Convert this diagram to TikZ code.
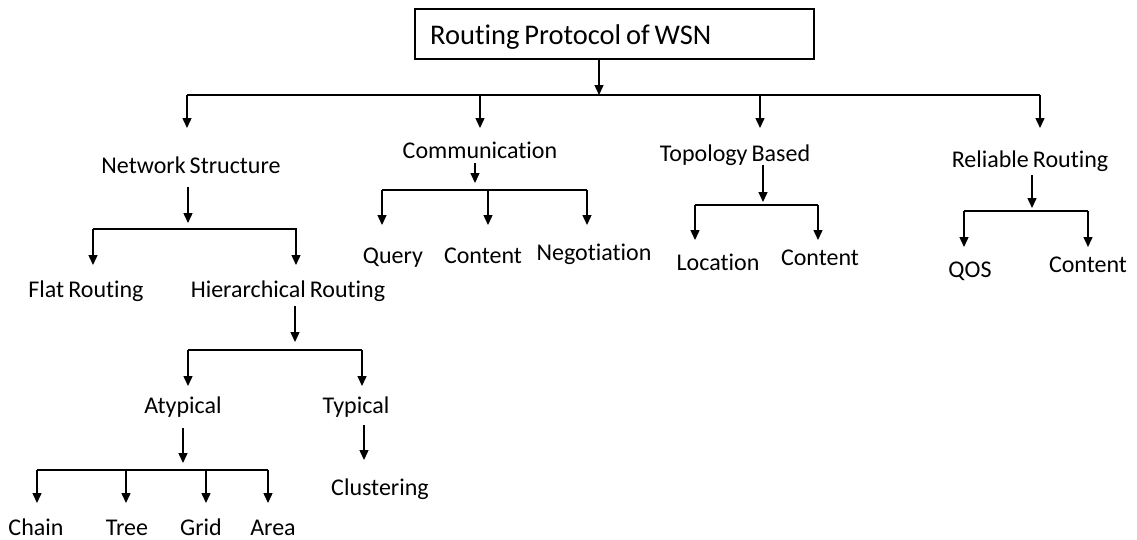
\documentclass[tikz,border=0pt]{standalone}
\usepackage{fontspec}
\setmainfont{Carlito}[WordSpace=0.75,Ligatures=NoCommon]
\usetikzlibrary{arrows.meta}
\begin{document}
\begin{tikzpicture}[x=1pt,y=-1pt,
  lbl/.style={font=\fontsize{24}{28}\selectfont, inner sep=0pt, anchor=base},
  arr/.style={line width=1.4pt,-{Triangle[width=9pt,length=10pt]}},
  ln/.style={line width=1.4pt}]
\useasboundingbox (0,0) rectangle (1137,539);
% root
\node[draw, line width=1.2pt, minimum width=399pt, minimum height=50pt, inner sep=0pt] (root) at (614.5,34) {};
\node[font=\fontsize{28.5}{33}\selectfont, inner sep=0pt, anchor=base west] (roottxt) at (430,44) {Routing Protocol of WSN};
% labels
\node[lbl] (ns)   at (191,173) {Network Structure};
\node[lbl] (com)  at (480,158) {Communication};
\node[lbl] (top)  at (735,161) {Topology Based};
\node[lbl] (rel)  at (1030,167) {Reliable Routing};
\node[lbl] (flat) at (86,297) {Flat Routing};
\node[lbl] (hier) at (288,297) {Hierarchical Routing};
\node[lbl] (qry)  at (393,263) {Query};
\node[lbl] (con1) at (483,263) {Content};
\node[lbl] (neg)  at (594,260) {Negotiation};
\node[lbl] (loc)  at (718,270) {Location};
\node[lbl] (con2) at (820,265) {Content};
\node[lbl] (qos)  at (970,277) {QOS};
\node[lbl] (con3) at (1088,272) {Content};
\node[lbl] (aty)  at (183,413) {Atypical};
\node[lbl] (typ)  at (356,413) {Typical};
\node[lbl] (clu)  at (380,495) {Clustering};
\node[lbl] (cha)  at (36,535) {Chain};
\node[lbl] (tre)  at (127,535) {Tree};
\node[lbl] (gri)  at (201,535) {Grid};
\node[lbl] (are)  at (273,535) {Area};
% level 1
\coordinate (b0) at (599,95);
\coordinate (b0w) at (187,95);
\coordinate (b0e) at (1040,95);
\draw[arr] (root.south -| b0) -- (b0);
\draw[ln] (b0w) -- (b0e);
\draw[arr] (b0w) -- (187,128);
\draw[arr] (480,95) -- (480,128);
\draw[arr] (760,95) -- (760,128);
\draw[arr] (b0e) -- (1040,128);
% network structure
\draw[arr] (188,187) -- (188,223);
\draw[ln] (93,229) -- (297,229);
\draw[arr] (93,229) -- (93,265);
\draw[arr] (296,229) -- (296,265);
% communication
\draw[arr] (475,163) -- (475,183);
\draw[ln] (382,190) -- (587,190);
\draw[arr] (382,190) -- (382,225);
\draw[arr] (488,190) -- (488,225);
\draw[arr] (587,190) -- (587,225);
% topology
\draw[arr] (763,165) -- (763,202);
\draw[ln] (695,205) -- (818,205);
\draw[arr] (695,205) -- (695,240);
\draw[arr] (818,205) -- (818,240);
% reliable
\draw[arr] (1032,175) -- (1032,208);
\draw[ln] (964,211) -- (1088,211);
\draw[arr] (964,211) -- (964,247);
\draw[arr] (1088,211) -- (1088,247);
% hierarchical
\draw[arr] (295,306) -- (295,342);
\draw[ln] (188,350) -- (362,350);
\draw[arr] (188,350) -- (188,386);
\draw[arr] (362,350) -- (362,386);
% atypical
\draw[arr] (183,428) -- (183,463);
\draw[ln] (37,470) -- (268,470);
\draw[arr] (37,470) -- (37,503);
\draw[arr] (126,470) -- (126,503);
\draw[arr] (206,470) -- (206,503);
\draw[arr] (268,470) -- (268,503);
% typical
\draw[arr] (364,425) -- (364,460);
\end{tikzpicture}
\end{document}
